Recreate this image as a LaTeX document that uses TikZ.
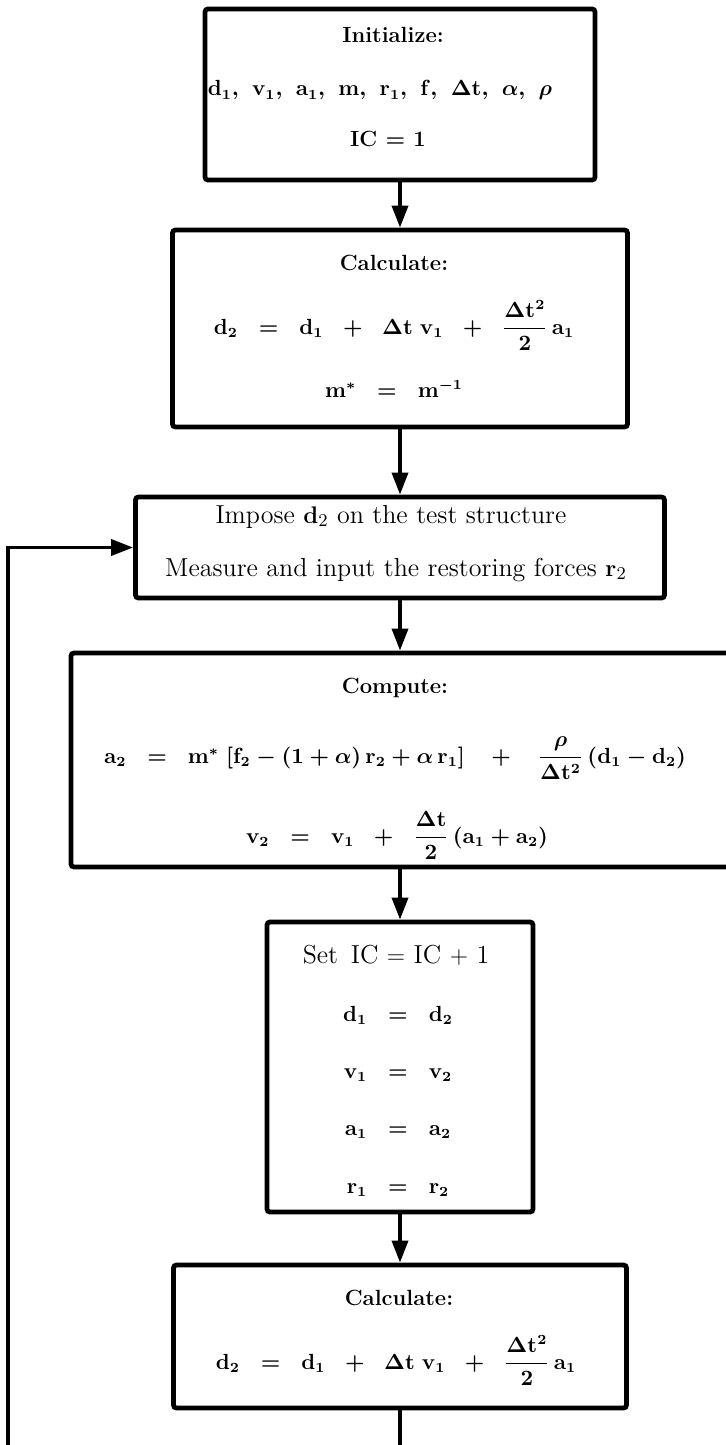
\documentclass[tikz,border=0pt]{standalone}
\usepackage{amsmath,amssymb,bm}
\usetikzlibrary{arrows.meta,positioning,calc}

\newcommand{\eqsize}{\fontsize{10.5}{13}\selectfont\boldmath}
\newcommand{\vt}[1]{\mathbf{#1}}

\begin{document}
\begin{tikzpicture}[
			x=0.5pt, y=-0.5pt,
			box/.style={draw, line width=2.4pt, rounded corners=1.5pt, inner sep=0pt},
			head/.style={font=\fontsize{11}{13}\selectfont\bfseries\boldmath, anchor=base, inner sep=0pt},
			txt/.style={font=\fontsize{13}{15}\selectfont, anchor=base, inner sep=0pt},
			eq/.style={font=\eqsize, anchor=base, inner sep=0pt},
			flow/.style={line width=1.8pt, -{Triangle[length=11pt,width=8pt]}},
			wire/.style={line width=1.8pt}
			]
			
			\useasboundingbox (0,0) rectangle (725,1445);
			
			% --------------------------------------------------------------------
			% boxes
			% --------------------------------------------------------------------
			\node[box, minimum width=195pt, minimum height=85.5pt] (init) at (400,94.5) {};
			\node[box, minimum width=227.5pt, minimum height=98.5pt] (calcA) at (400,328.5) {};
			\node[box, minimum width=264.5pt, minimum height=50.5pt] (impose) at (400,547.5) {};
			\node[box, minimum width=329.5pt, minimum height=107pt] (comp) at (400.5,760) {};
			\node[box, minimum width=133pt, minimum height=145pt] (setic) at (400,1067) {};
			\node[box, minimum width=226.5pt, minimum height=71.5pt] (calcB) at (400,1336.5) {};
			
			% Initialize
			\node[head] (initT) at (393,43) {Initialize:};
			\node[eq] (initL) at (380,96) {$\vt{d}_1,\ \mkern1.5mu\vt{v}_1,\ \mkern1.5mu\vt{a}_1,\ \mkern1.5mu\vt{m},\ \mkern1.5mu\vt{r}_1,\ \mkern1.5mu\vt{f},\ \mkern1.5mu\Delta\vt{t},\ \mkern1.5mu\alpha,\ \mkern1.5mu\rho$};
			\node[head] (initIC) at (388,147) {IC $=$ 1};
			
			% Calculate (first)
			\node[head] (calcAT) at (394,270) {Calculate:};
			\node[eq] (calcAE) at (394,334) {$\vt{d}_2 \;\;=\;\; \vt{d}_1 \;\;+\;\; \Delta\vt{t}\;\vt{v}_1 \;\;+\;\; \dfrac{\Delta\vt{t}^2}{2}\,\vt{a}_1$};
			\node[eq] (calcAM) at (394,397) {$\vt{m}^{*} \;\;=\;\; \vt{m}^{-1}$};
			
			% Impose / measure
			\node[txt] (impT) at (391,523) {Impose $\vt{d}_2$ on the test structure};
			\node[txt] (impM) at (396,576) {Measure and input the restoring forces $\vt{r}_2$};
			
			% Compute
			\node[head] (compT) at (395,693) {Compute:};
			\node[eq] (compA) at (395,763) {$\vt{a}_2 \;\;=\;\; \vt{m}^{*}\;[\vt{f}_2 - (1 + \alpha)\,\vt{r}_2 + \alpha\,\vt{r}_1] \;\;\;+\;\;\; \dfrac{\rho}{\Delta\vt{t}^2}\,(\vt{d}_1 - \vt{d}_2)$};
			\node[eq] (compV) at (397,843) {$\vt{v}_2 \;\;=\;\; \vt{v}_1 \;\;+\;\; \dfrac{\Delta\vt{t}}{2}\,(\vt{a}_1 + \vt{a}_2)$};
			
			% Set IC
			\node[txt] (setT) at (396,963) {Set\ \,IC $=$ IC $+$ 1};
			\node[eq] (setD) at (398,1021) {$\vt{d}_1 \;\;=\;\; \vt{d}_2$};
			\node[eq] (setV) at (398,1078) {$\vt{v}_1 \;\;=\;\; \vt{v}_2$};
			\node[eq] (setA) at (398,1135) {$\vt{a}_1 \;\;=\;\; \vt{a}_2$};
			\node[eq] (setR) at (398,1193) {$\vt{r}_1 \;\;=\;\; \vt{r}_2$};
			
			% Calculate (second)
			\node[head] (calcBT) at (399,1305) {Calculate:};
			\node[eq] (calcBE) at (396,1369) {$\vt{d}_2 \;\;=\;\; \vt{d}_1 \;\;+\;\; \Delta\vt{t}\;\vt{v}_1 \;\;+\;\; \dfrac{\Delta\vt{t}^2}{2}\,\vt{a}_1$};
			
			% --------------------------------------------------------------------
			% connectors
			% --------------------------------------------------------------------
			\coordinate (loopB) at (8,1450);
			\coordinate (exitB) at (400,1450);
			
			\draw[flow] (init.south) -- (calcA.north);
			\draw[flow] (calcA.south) -- (impose.north);
			\draw[flow] (impose.south) -- (impose.south |- comp.north);
			\draw[flow] (comp.south -| setic.north) -- (setic.north);
			\draw[flow] (setic.south) -- (calcB.north);
			\draw[wire] (calcB.south) -- (exitB);
			\draw[flow] (loopB) |- (impose.west);
			
\end{tikzpicture}
\end{document}
